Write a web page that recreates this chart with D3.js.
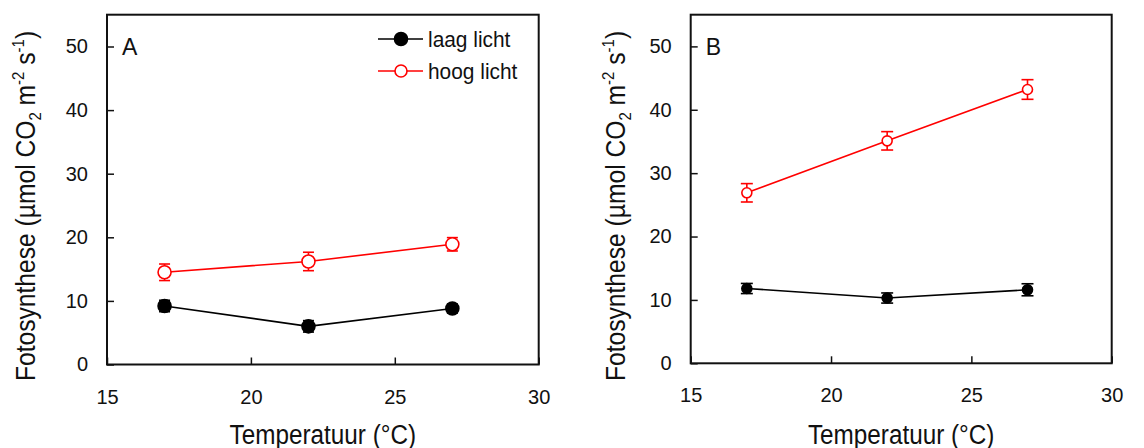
<!DOCTYPE html>
<html>
<head>
<meta charset="utf-8">
<script src="https://cdn.jsdelivr.net/npm/d3@7"></script>
<style>
  html, body { margin: 0; padding: 0; background: #fff; }
  svg { display: block; }
  text { font-family: "Liberation Sans", Arial, sans-serif; fill: #111; }
</style>
</head>
<body>
<svg id="chart" width="1144" height="448"></svg>
<script>
// Temperatures (°C) at which photosynthesis was measured
const temps = [17, 22, 27];

// Panel A: mean photosynthesis and error
const laagA = [9.2, 6.0, 8.8];
const laagAErr = [0.9, 0.9, 0.7];
const hoogA = [14.5, 16.2, 18.9];
const hoogAErr = [1.3, 1.45, 1.05];

// Panel B
const laagB = [11.8, 10.3, 11.6];
const laagBErr = [0.8, 0.8, 0.95];
const hoogB = [26.9, 35.1, 43.2];
const hoogBErr = [1.45, 1.45, 1.55];

const xTicks = [15, 20, 25, 30];
const yTicks = [0, 10, 20, 30, 40, 50];
const seriesNames = ["laag licht", "hoog licht"];

const svg = d3.select("#chart");

const panels = [
  { label: "A", left: 107, right: 538.7, top: 14.7, bottom: 364.5, titleX: 35,
    laag: laagA, laagErr: laagAErr, hoog: hoogA, hoogErr: hoogAErr, r: 6.5, cap: 5.5, legend: true },
  { label: "B", left: 690.7, right: 1111.7, top: 14.7, bottom: 363.3, titleX: 625,
    laag: laagB, laagErr: laagBErr, hoog: hoogB, hoogErr: hoogBErr, r: 5, cap: 6, legend: false }
];

panels.forEach(p => {
  const x = d3.scaleLinear().domain([15, 30]).range([p.left, p.right]);
  const y = d3.scaleLinear().domain([0, 55]).range([p.bottom, p.top]);
  const g = svg.append("g");

  // y axis with inward ticks
  const yAxis = g.append("g")
    .attr("transform", `translate(${p.left},0)`)
    .call(d3.axisLeft(y).tickValues(yTicks).tickSizeInner(-7).tickSizeOuter(0).tickPadding(19));
  yAxis.attr("font-family", null).attr("font-size", null);
  yAxis.select(".domain").remove();
  yAxis.selectAll(".tick line").attr("stroke", "#111").attr("stroke-width", 1.5);
  yAxis.selectAll(".tick text").attr("font-size", 20).attr("fill", "#111");

  // x axis with inward ticks
  const xAxis = g.append("g")
    .attr("transform", `translate(0,${p.bottom})`)
    .call(d3.axisBottom(x).tickValues(xTicks).tickSizeInner(-7).tickSizeOuter(0).tickPadding(25));
  xAxis.attr("font-family", null).attr("font-size", null);
  xAxis.select(".domain").remove();
  xAxis.selectAll(".tick line").attr("stroke", "#111").attr("stroke-width", 1.5);
  xAxis.selectAll(".tick text").attr("font-size", 20).attr("fill", "#111");

  // frame
  g.append("rect")
    .attr("x", p.left).attr("y", p.top)
    .attr("width", p.right - p.left).attr("height", p.bottom - p.top)
    .attr("fill", "none").attr("stroke", "#111").attr("stroke-width", 2);

  // panel label
  g.append("text").attr("x", p.left + 15).attr("y", p.top + 40)
    .attr("font-size", 23).text(p.label);

  // axis titles (condensed horizontally)
  g.append("text")
    .attr("transform", `translate(${(p.left + p.right) / 2},444) scale(0.9,1)`)
    .attr("text-anchor", "middle").attr("font-size", 27)
    .text("Temperatuur (°C)");

  const yt = g.append("text")
    .attr("transform", `translate(${p.titleX},206) rotate(-90) scale(0.88,1)`)
    .attr("text-anchor", "middle").attr("font-size", 28);
  yt.append("tspan").text("Fotosynthese (µmol CO");
  yt.append("tspan").attr("font-size", 17).attr("dy", 6).text("2");
  yt.append("tspan").attr("dy", -6).text(" m");
  yt.append("tspan").attr("font-size", 17).attr("dy", -11).text("-2");
  yt.append("tspan").attr("dy", 11).text(" s");
  yt.append("tspan").attr("font-size", 17).attr("dy", -11).text("-1");
  yt.append("tspan").attr("dy", 11).text(")");

  const line = d3.line().x((d, i) => x(temps[i])).y(d => y(d));

  const series = [
    { vals: p.laag, errs: p.laagErr, color: "#000", fill: "#000" },
    { vals: p.hoog, errs: p.hoogErr, color: "#ff0000", fill: "#fff" }
  ];

  series.forEach(s => {
    g.append("path").datum(s.vals).attr("d", line)
      .attr("fill", "none").attr("stroke", s.color).attr("stroke-width", 1.6);

    const eb = g.append("g").attr("stroke", s.color).attr("stroke-width", 1.6);
    s.vals.forEach((v, i) => {
      const cx = x(temps[i]);
      const y1 = y(v + s.errs[i]), y0 = y(v - s.errs[i]);
      eb.append("line").attr("x1", cx).attr("x2", cx).attr("y1", y0).attr("y2", y1);
      eb.append("line").attr("x1", cx - p.cap).attr("x2", cx + p.cap).attr("y1", y0).attr("y2", y0);
      eb.append("line").attr("x1", cx - p.cap).attr("x2", cx + p.cap).attr("y1", y1).attr("y2", y1);
    });

    g.selectAll(null).data(s.vals).enter().append("circle")
      .attr("cx", (d, i) => x(temps[i])).attr("cy", d => y(d))
      .attr("r", p.r).attr("fill", s.fill)
      .attr("stroke", s.color).attr("stroke-width", 1.6);
  });

  if (p.legend) {
    const lg = g.append("g");
    [{ color: "#000", fill: "#000" }, { color: "#ff0000", fill: "#fff" }].forEach((s, i) => {
      const ly = 39 + i * 32;
      lg.append("line").attr("x1", 378).attr("x2", 423).attr("y1", ly).attr("y2", ly)
        .attr("stroke", s.color).attr("stroke-width", 1.6);
      lg.append("circle").attr("cx", 401).attr("cy", ly).attr("r", i === 0 ? 6.5 : 6)
        .attr("fill", s.fill).attr("stroke", s.color).attr("stroke-width", 1.6);
      lg.append("text").attr("transform", `translate(428,${ly}) scale(0.95,1)`).attr("dy", "0.35em")
        .attr("font-size", 22).text(seriesNames[i]);
    });
  }
});
</script>
</body>
</html>
